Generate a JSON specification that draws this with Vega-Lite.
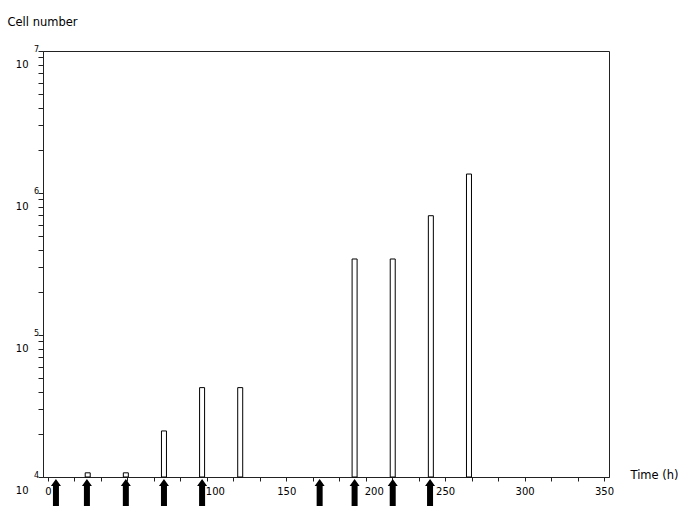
{
  "$schema": "https://vega.github.io/schema/vega-lite/v6.json",
  "width": 566,
  "height": 426,
  "autosize": "none",
  "padding": {"left": 43, "top": 51, "right": 76, "bottom": 29},
  "background": "white",
  "config": {
    "view": {"stroke": "#222", "strokeWidth": 1},
    "font": "DejaVu Sans",
    "axis": {"grid": false, "domainColor": "#222", "tickColor": "#222", "labelColor": "black", "titleColor": "black", "titleFontWeight": "normal", "titleFontSize": 11.5, "labelFontSize": 10}
  },
  "resolve": {"axis": {"x": "independent"}},
  "layer": [
    {
      "data": {"values": [
        {"time": 25, "cells": 10700},
        {"time": 49, "cells": 10700},
        {"time": 73, "cells": 21100},
        {"time": 97, "cells": 42600},
        {"time": 121, "cells": 42600},
        {"time": 193, "cells": 343000},
        {"time": 217, "cells": 343000},
        {"time": 241, "cells": 692000},
        {"time": 265, "cells": 1360000}
      ]},
      "mark": {"type": "bar", "size": 5, "fill": "white", "stroke": "black", "strokeWidth": 1},
      "encoding": {
        "x": {
          "field": "time", "type": "quantitative",
          "scale": {"domain": [0, 350], "nice": false, "zero": false},
          "axis": {
            "orient": "bottom",
            "values": [0, 100, 150, 200, 250, 300, 350],
            "format": "d",
            "tickSize": 4, "labelPadding": 5, "labelFlush": false, "labelOverlap": false,
            "labelOffset": {"condition": {"test": "datum.value == 100 || datum.value == 200", "value": 8}, "value": 0},
            "title": "Time (h)", "titleX": 587, "titleY": -2, "titleAlign": "left", "titleBaseline": "middle", "titleAnchor": null
          }
        },
        "y": {
          "field": "cells", "type": "quantitative",
          "scale": {"type": "log", "domain": [10000, 10000000], "nice": false},
          "axis": {
            "values": [10000, 20000, 30000, 40000, 50000, 60000, 70000, 80000, 90000, 100000, 200000, 300000, 400000, 500000, 600000, 700000, 800000, 900000, 1000000, 2000000, 3000000, 4000000, 5000000, 6000000, 7000000, 8000000, 9000000, 10000000],
            "labelExpr": "abs(log(datum.value)/log(10) - round(log(datum.value)/log(10))) < 0.001 ? '10' : ''",
            "tickSize": 5, "labelPadding": 10, "labelBaseline": "middle", "labelAlign": "right", "labelOffset": 13, "labelFlush": false, "labelOverlap": false,
            "title": "Cell number", "titleAngle": 0, "titleX": -36, "titleY": -29, "titleAlign": "left", "titleBaseline": "middle", "titleAnchor": null
          }
        },
        "y2": {"datum": 10000}
      }
    },
    {
      "data": {"values": [
        {"time": 5},
        {"time": 24.5},
        {"time": 49},
        {"time": 73},
        {"time": 97},
        {"time": 171},
        {"time": 193},
        {"time": 217},
        {"time": 240.5}
      ]},
      "mark": {"type": "point", "shape": "M0,2L5,9L3,9L3,35L-3,35L-3,9L-5,9Z", "size": 4, "filled": true, "color": "black", "opacity": 1, "clip": false},
      "encoding": {
        "x": {
          "field": "time", "type": "quantitative",
          "axis": {
            "orient": "bottom",
            "values": [16.6667, 33.3333, 50, 66.6667, 83.3333, 116.6667, 133.3333, 166.6667, 183.3333, 216.6667, 233.3333, 266.6667, 283.3333, 316.6667, 333.3333],
            "labels": false, "domain": false, "tickSize": 4, "title": null
          }
        },
        "y": {"value": "height"}
      }
    },
    {
      "data": {"values": [
        {"cells": 10000, "exp": "4"},
        {"cells": 100000, "exp": "5"},
        {"cells": 1000000, "exp": "6"},
        {"cells": 10000000, "exp": "7"}
      ]},
      "mark": {"type": "text", "align": "right", "baseline": "middle", "fontSize": 8, "dx": -9, "dy": -1, "color": "black"},
      "encoding": {
        "x": {"datum": 0, "type": "quantitative", "axis": null},
        "y": {"field": "cells", "type": "quantitative"},
        "text": {"field": "exp"}
      }
    }
  ]
}
